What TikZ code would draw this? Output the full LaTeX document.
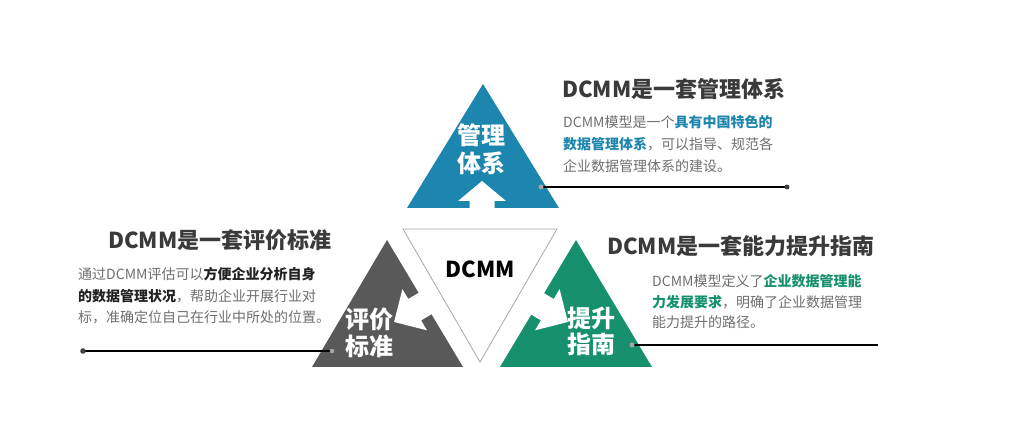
\documentclass[tikz,border=0pt]{standalone}
\usepackage{fontspec}
\setmainfont{Noto Sans CJK SC}
\definecolor{cblue}{HTML}{1C86AE}
\definecolor{cgray}{HTML}{595959}
\definecolor{cgreen}{HTML}{17906E}
\definecolor{ctitle}{HTML}{3A3A3A}
\definecolor{cbody}{HTML}{6E6E6E}
\definecolor{cdark}{HTML}{222222}
\begin{document}
\begin{tikzpicture}[x=1pt,y=-1pt,
  title/.style={anchor=base west,inner sep=0pt,text=ctitle,font=\fontsize{22}{22}\selectfont\bfseries},
  body/.style={anchor=base west,inner sep=0pt,text=cbody,font=\fontsize{14}{14}\selectfont},
  tlabel/.style={anchor=base,inner sep=0pt,text=white,font=\fontsize{24}{24}\selectfont\bfseries},
  rule/.style={line width=2pt,black},
  dotlight/.style={fill=gray!70},
  dotdark/.style={fill=black!75}]
\useasboundingbox (0,0) rectangle (1029,443);
% triangles
\fill[cblue] (483,84) -- (559,208) -- (407,208) -- cycle;
\fill[cgray] (387,240) -- (463,367) -- (312,367) -- cycle;
\fill[cgreen] (576,240) -- (652,367) -- (500,367) -- cycle;
\draw[gray!70,line width=0.8pt] (403,229) -- (557,229) -- (480,362) -- cycle;
% white arrows
\fill[white] (469.5,209) -- (469.5,201) -- (458,201) -- (482,181) -- (506,201) -- (494.5,201) -- (494.5,209) -- cycle;
\fill[white] (419.5,292.3) -- (408.3,299.0) -- (402.4,289.1) -- (394.1,322.0) -- (427.0,330.3) -- (421.1,320.4) -- (432.3,313.7) -- cycle;
\fill[white] (542.5,292.3) -- (553.7,299.0) -- (559.6,289.1) -- (567.9,322.0) -- (535.0,330.3) -- (540.9,320.4) -- (529.7,313.7) -- cycle;
% triangle labels
\node[tlabel] (gl1) at (481,145) {管理};
\node[tlabel] (gl2) at (481,173) {体系};
\node[tlabel] (pj1) at (369,329) {评价};
\node[tlabel] (pj2) at (369,356) {标准};
\node[tlabel] (ts1) at (591,328) {提升};
\node[tlabel] (ts2) at (591,354) {指南};
\node[anchor=base,inner sep=0pt,text=black,font=\fontsize{22}{22}\selectfont\bfseries] (center) at (480,278) {DCMM};
% top text
\node[title] (t1) at (562,98) {DCMM是一套管理体系};
\node[body] (t1a) at (563,128) {DCMM模型是一个\textcolor{cblue}{\bfseries 具有中国特色的}};
\node[body] (t1b) at (563,150) {\textcolor{cblue}{\bfseries 数据管理体系}，可以指导、规范各};
\node[body] (t1c) at (563,172) {企业数据管理体系的建设。};
% left text
\node[title] (t2) at (108,249) {DCMM是一套评价标准};
\node[body] (t2a) at (78,280) {通过DCMM评估可以\textcolor{cdark}{\bfseries 方便企业分析自身}};
\node[body] (t2b) at (78,302) {\textcolor{cdark}{\bfseries 的数据管理状况}，帮助企业开展行业对};
\node[body] (t2c) at (78,323) {标，准确定位自己在行业中所处的位置。};
% right text
\node[title] (t3) at (607,255) {DCMM是一套能力提升指南};
\node[body] (t3a) at (652,287) {DCMM模型定义了\textcolor{cgreen}{\bfseries 企业数据管理能}};
\node[body] (t3b) at (652,308) {\textcolor{cgreen}{\bfseries 力发展要求}，明确了企业数据管理};
\node[body] (t3c) at (652,328) {能力提升的路径。};
% rules
\coordinate (r1a) at (541,187);
\coordinate (r1b) at (787,187);
\coordinate (r2a) at (83,351);
\coordinate (r2b) at (332,351);
\coordinate (r3a) at (632,345);
\coordinate (r3b) at (878,345);
\draw[rule] (r1a) -- (r1b);
\draw[rule] (r2a) -- (r2b);
\draw[rule] (r3a) -- (r3b);
\fill[dotlight] (r1a) circle (2.5);
\fill[dotdark] (r1b) circle (2.5);
\fill[dotdark] (r2a) circle (2.8);
\fill[dotlight] (r2b) circle (2.3);
\fill[dotlight] (r3a) circle (2.5);
\end{tikzpicture}
\end{document}
